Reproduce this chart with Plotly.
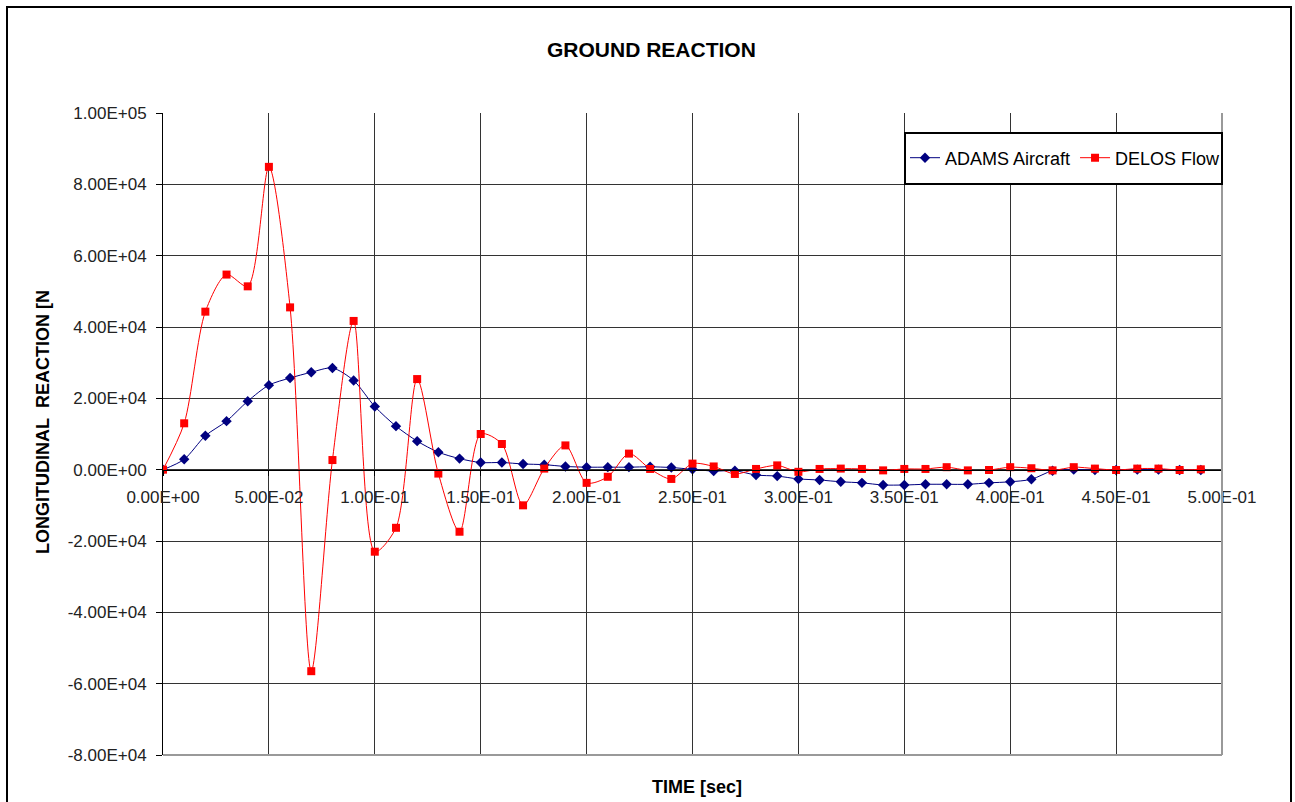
import plotly.graph_objects as go

time_s = [round(i * 0.01, 2) for i in range(50)]

adams_aircraft = [0, 2900, 9500, 13600, 19200, 23700, 25700, 27300, 28500, 25000,
                  17700, 12200, 8000, 4900, 3100, 2000, 2000, 1600, 1400, 900,
                  700, 700, 700, 800, 600, 100, -400, -300, -1500, -1800,
                  -2600, -2900, -3400, -3700, -4300, -4300, -4100, -4100, -4100, -3700,
                  -3400, -2700, -300, 0, -100, -100, 0, 0, -100, -100]

delos_flow = [0, 13000, 44300, 54700, 51400, 84900, 45500, -56500, 2700, 41700,
              -23000, -16300, 25400, -1100, -17400, 10000, 7200, -10000, 300, 6800,
              -3700, -2000, 4500, 200, -2600, 1700, 900, -1200, 200, 1200,
              -600, 200, 300, 200, -200, 200, 200, 700, -200, -100,
              700, 400, -200, 700, 300, -100, 300, 300, -100, 100]

x_tickvals = [0, 0.05, 0.10, 0.15, 0.20, 0.25, 0.30, 0.35, 0.40, 0.45, 0.50]
x_ticktext = ["0.00E+00", "5.00E-02", "1.00E-01", "1.50E-01", "2.00E-01", "2.50E-01",
              "3.00E-01", "3.50E-01", "4.00E-01", "4.50E-01", "5.00E-01"]
y_tickvals = [100000, 80000, 60000, 40000, 20000, 0, -20000, -40000, -60000, -80000]
y_ticktext = ["1.00E+05", "8.00E+04", "6.00E+04", "4.00E+04", "2.00E+04", "0.00E+00",
              "-2.00E+04", "-4.00E+04", "-6.00E+04", "-8.00E+04"]

W, H = 1295, 802
L, R, T, B = 163, 1222, 113, 755
pw, ph = R - L, B - T


def px(x):
    return (x - L) / pw


def py(y):
    return (B - y) / ph


FONT = "Arial, 'Liberation Sans', sans-serif"

fig = go.Figure()
fig.add_trace(go.Scatter(
    x=time_s, y=adams_aircraft, name="ADAMS Aircraft", mode="lines+markers",
    line=dict(color="#000080", width=1, shape="spline", smoothing=0.8),
    marker=dict(symbol="diamond", size=8, color="#000080")))
fig.add_trace(go.Scatter(
    x=time_s, y=delos_flow, name="DELOS Flow", mode="lines+markers",
    line=dict(color="#FF0000", width=1, shape="spline", smoothing=0.8),
    marker=dict(symbol="square", size=8, color="#FF0000")))

fig.update_layout(
    width=W, height=H,
    margin=dict(l=L, r=W - R, t=T, b=H - B, autoexpand=False),
    paper_bgcolor="white", plot_bgcolor="white",
    font=dict(family=FONT, size=17, color="#000"),
    showlegend=True,
    legend=dict(orientation="h", x=px(905), xanchor="left", y=py(158), yanchor="middle",
                bgcolor="rgba(0,0,0,0)", borderwidth=0, font=dict(size=18),
                itemwidth=30, tracegroupgap=0),
    xaxis=dict(range=[0, 0.5], tickvals=x_tickvals, ticktext=x_ticktext,
               anchor="free", position=80000 / 180000,
               showgrid=True, gridcolor="#333", gridwidth=1,
               showline=True, linecolor="#000", linewidth=1,
               ticks="outside", ticklen=5, tickcolor="#000",
               ticklabelstandoff=7, zeroline=False,
               tickfont=dict(size=17, color="#222")),
    yaxis=dict(range=[-80000, 100000], tickvals=y_tickvals, ticktext=y_ticktext,
               showgrid=True, gridcolor="#333", gridwidth=1,
               showline=True, linecolor="#000", linewidth=1,
               ticks="outside", ticklen=6, tickcolor="#000", zeroline=False,
               ticklabelstandoff=6,
               tickfont=dict(size=17, color="#222")),
    shapes=[
        dict(type="rect", xref="paper", yref="paper",
             x0=px(7), x1=px(1291), y0=py(812), y1=py(7),
             line=dict(color="#000", width=2), fillcolor="rgba(0,0,0,0)", layer="above"),
        dict(type="line", xref="paper", yref="paper", x0=1, x1=1, y0=0, y1=1,
             line=dict(color="#999", width=2), layer="above"),
        dict(type="line", xref="paper", yref="paper", x0=0, x1=1, y0=0, y1=0,
             line=dict(color="#999", width=2), layer="above"),
        dict(type="rect", xref="paper", yref="paper",
             x0=px(905), x1=px(1222), y0=py(184), y1=py(133),
             line=dict(color="#000", width=2), fillcolor="white", layer="above"),
    ],
    annotations=[
        dict(text="<b>GROUND REACTION</b>", xref="paper", yref="paper",
             x=px(651), y=py(49), showarrow=False, xanchor="center", yanchor="middle",
             font=dict(size=21, family=FONT, color="#000")),
        dict(text="<b>TIME [sec]</b>", xref="paper", yref="paper",
             x=px(697), y=py(787), showarrow=False, xanchor="center", yanchor="middle",
             font=dict(size=18, family=FONT, color="#000")),
        dict(text="<b>LONGITUDINAL\u00a0\u00a0REACTION [N</b>", xref="paper", yref="paper",
             x=px(43), y=py(422), showarrow=False, textangle=-90,
             xanchor="center", yanchor="middle",
             font=dict(size=18, family=FONT, color="#000")),
    ],
)

fig.write_html("out.html")
